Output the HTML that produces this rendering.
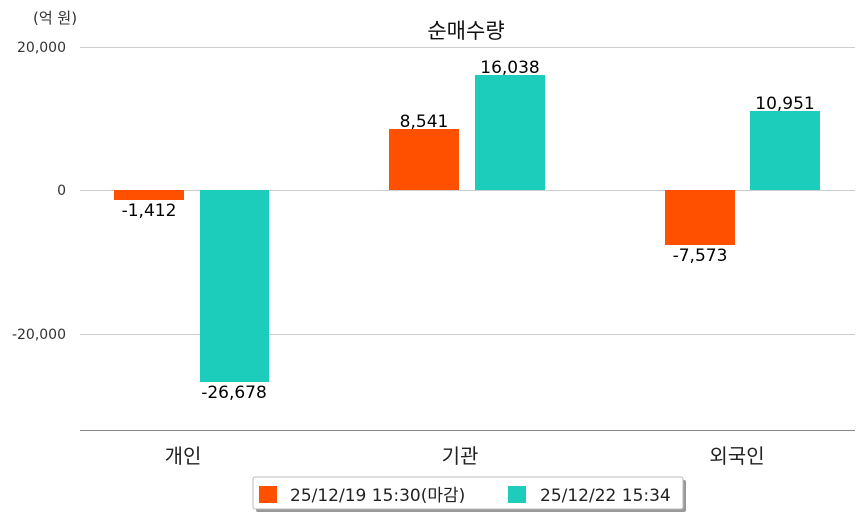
<!DOCTYPE html>
<html><head><meta charset="utf-8"><style>
body{margin:0;background:#fff;}
svg text{font-family:"DejaVu Sans","Noto Sans CJK KR",sans-serif;}
</style></head><body>
<svg width="863" height="520" viewBox="0 0 863 520" xmlns="http://www.w3.org/2000/svg">
<rect width="863" height="520" fill="#fff"/>
<text x="33" y="23" font-size="15" fill="#333">(억 원)</text>
<text x="466" y="38" font-size="21" fill="#111" text-anchor="middle">순매수량</text>
<g stroke="#ccc" stroke-width="1">
<line x1="80" y1="47.5" x2="855" y2="47.5"/>
<line x1="80" y1="190.5" x2="855" y2="190.5"/>
<line x1="80" y1="334.5" x2="855" y2="334.5"/>
</g>
<line x1="80" y1="430.5" x2="855" y2="430.5" stroke="#888" stroke-width="1"/>
<g font-size="14" fill="#333" text-anchor="end">
<text x="66" y="52">20,000</text>
<text x="66" y="195">0</text>
<text x="66" y="339">-20,000</text>
</g>
<rect x="114" y="190" width="70" height="10" fill="#ff5000"/>
<rect x="200" y="190" width="69" height="192" fill="#1ccdbb"/>
<rect x="389" y="129" width="70" height="61" fill="#ff5000"/>
<rect x="475" y="75" width="70" height="115" fill="#1ccdbb"/>
<rect x="665" y="190" width="70" height="55" fill="#ff5000"/>
<rect x="750" y="111" width="70" height="79" fill="#1ccdbb"/>
<g font-size="17" fill="#000" text-anchor="middle">
<text x="149" y="216">-1,412</text>
<text x="234" y="398">-26,678</text>
<text x="424" y="127">8,541</text>
<text x="510" y="73">16,038</text>
<text x="700" y="261">-7,573</text>
<text x="785" y="109">10,951</text>
</g>
<g font-size="20" fill="#222" text-anchor="middle">
<text x="183" y="463">개인</text>
<text x="460" y="463">기관</text>
<text x="737" y="463">외국인</text>
</g>
<rect x="256" y="480" width="430" height="32" rx="2" fill="#999"/>
<rect x="253" y="477" width="430" height="32" rx="2" fill="#fff" stroke="#bbb"/>
<rect x="259" y="486" width="18" height="17" fill="#ff5000"/>
<text x="290" y="501" font-size="17" fill="#222">25/12/19 15:30(마감)</text>
<rect x="508" y="486" width="18" height="17" fill="#1ccdbb"/>
<text x="540" y="501" font-size="17" fill="#222">25/12/22 15:34</text>
</svg>
</body></html>
